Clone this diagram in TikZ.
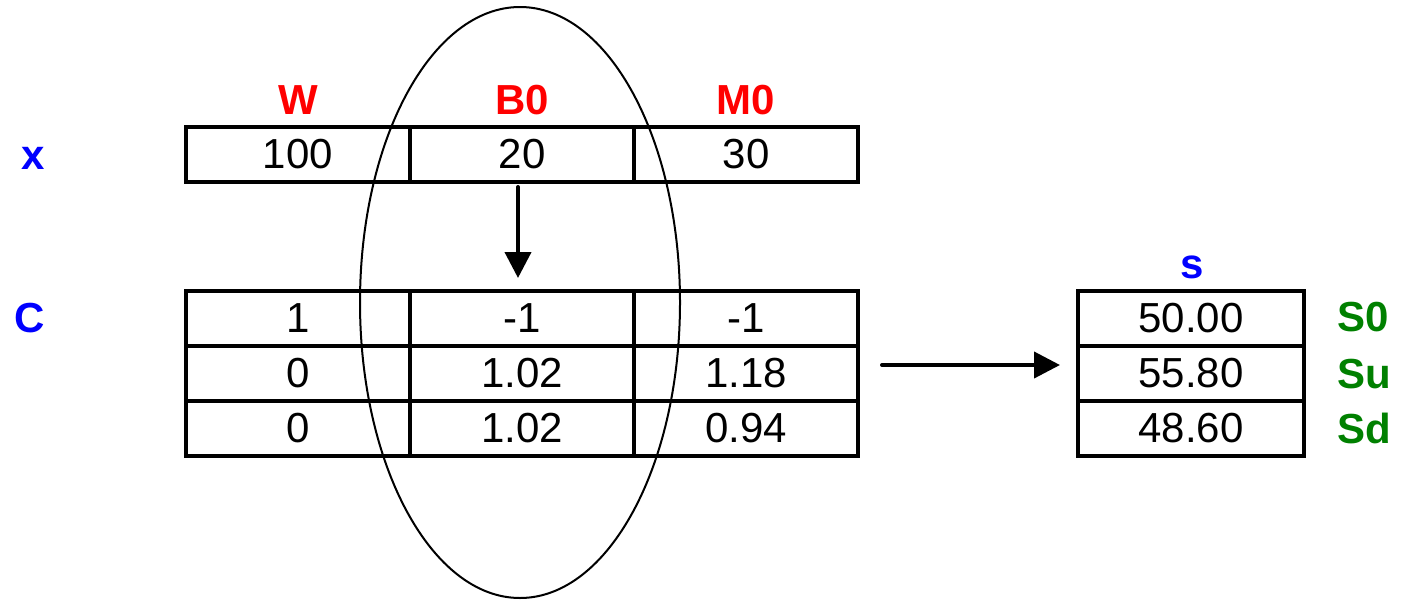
\documentclass[tikz,border=0pt]{standalone}
\usepackage{fontspec}
\setmainfont{Liberation Sans}
\usetikzlibrary{positioning,arrows.meta}
\definecolor{sgreen}{RGB}{0,128,0}

\begin{document}
\begin{tikzpicture}
            [%%%%%%%%%%%%%%%%%%%%%%%%%%%%%%%%%%%%%%%%%%%%%%%%%%%%%%%%%%
                x=0.5pt,y=-0.5pt,node distance=0pt,
                >={Triangle[length=13pt,width=13pt]},
                cell/.style={rectangle,draw,line width=2pt,outer sep=0pt,
                             inner sep=0pt,minimum width=112pt,minimum height=27.5pt,
                             font=\fontsize{21}{25}\selectfont},
                lbl/.style={inner sep=0pt,text depth=0pt,
                            font=\fontsize{21}{25}\selectfont\bfseries},
                var/.style={lbl,text=blue},
                hdr/.style={lbl,text=red},
                st/.style={lbl,text=sgreen,anchor=west}
            ]%%%%%%%%%%%%%%%%%%%%%%%%%%%%%%%%%%%%%%%%%%%%%%%%%%%%%%%%%%
            \useasboundingbox (0,0) rectangle (1402,600);

            \node[cell] (w)  at (298,154.5) {100};
            \node[cell] (b0) [right=of w]  {20};
            \node[cell] (m0) [right=of b0] {30};

            \node[hdr] (wl)  at (298,100) {W};
            \node[hdr] (b0l) at (522,100) {B0};
            \node[hdr] (m0l) at (746,100) {M0};
            \node[var] (xl)  at (33,158) {x};

            \node[cell] (c11) at (298,318.5) {1};
            \node[cell] (c12) [right=of c11] {-1};
            \node[cell] (c13) [right=of c12] {-1};
            \node[cell] (c21) [below=of c11] {0};
            \node[cell] (c22) [right=of c21] {1.02};
            \node[cell] (c23) [right=of c22] {1.18};
            \node[cell] (c31) [below=of c21] {0};
            \node[cell] (c32) [right=of c31] {1.02};
            \node[cell] (c33) [right=of c32] {0.94};
            \node[var] (cl) at (30,318) {C};

            \node[cell,minimum width=113pt] (s1) at (1191,318.5) {50.00};
            \node[cell,minimum width=113pt] (s2) [below=of s1] {55.80};
            \node[cell,minimum width=113pt] (s3) [below=of s2] {48.60};
            \node[var] (sl) at (1192,267) {s};
            \node[st] (s0l) at (1337,317) {S0};
            \node[st] (sul) at (1337,374) {Su};
            \node[st] (sdl) at (1337,428) {Sd};

            \draw [->,line width=2pt,line cap=round] ([xshift=-2pt,yshift=-2.5pt]b0.south) -- ([xshift=-2pt,yshift=6.5pt]c12.north);
            \draw [->,line width=2pt,line cap=round] ([xshift=12pt,yshift=4.25pt]c23.east) -- ([xshift=-9pt,yshift=4.25pt]s2.west);

            \draw [line width=1pt] (520,302.5) ellipse [x radius=80pt,y radius=147.75pt];
        \end{tikzpicture}
\end{document}
